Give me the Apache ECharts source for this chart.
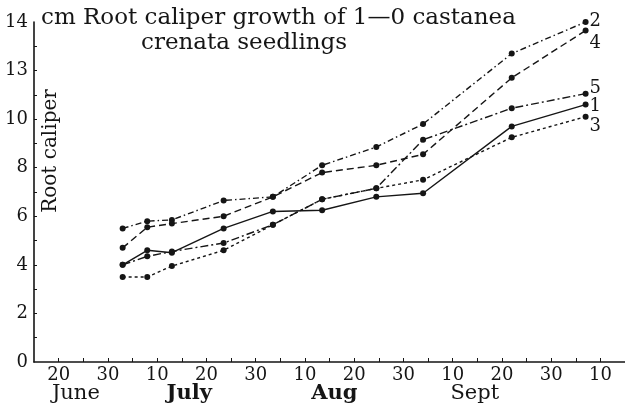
<!DOCTYPE html>
<html>
<head>
<meta charset="utf-8">
<script src="https://cdn.jsdelivr.net/npm/echarts@6/dist/echarts.min.js"></script>
<style>
  html, body { margin: 0; padding: 0; background: #fff; }
  #chart { width: 625px; height: 412px; }
</style>
</head>
<body>
<div id="chart"></div>
<script>
// dates on a "ten-day" scale: 20 = June 20, 30 = June 30, 40 = July 10 ...
const days = [33, 38, 43, 53.5, 63.5, 73.5, 84.5, 94, 112, 127]

// root caliper (cm) per seedling group
const group1 = [4.0, 4.6, 4.5, 5.5, 6.2, 6.25, 6.8, 6.95, 9.7, 10.6]
const group2 = [5.5, 5.8, 5.85, 6.65, 6.8, 8.1, 8.85, 9.8, 12.7, 14.0]
const group3 = [3.5, 3.5, 3.95, 4.6, 5.65, 6.7, 7.15, 7.5, 9.25, 10.1]
const group4 = [4.7, 5.55, 5.7, 6.0, 6.8, 7.8, 8.1, 8.55, 11.7, 13.65]
const group5 = [4.0, 4.35, 4.55, 4.9, 5.65, 6.7, 7.15, 9.15, 10.45, 11.05]

const xTickValues = [20, 30, 40, 50, 60, 70, 80, 90, 100, 110, 120, 130]
const xTickLabels = ['20', '30', '10', '20', '30', '10', '20', '30', '10', '20', '30', '10']
const monthValues = [23.5, 46.5, 76, 104.5]
const monthLabels = ['June', 'July', 'Aug', 'Sept']
const yTickValues = [0, 2, 4, 6, 8, 10, 12, 14]
const yTickLabels = ['0', '2', '4', '6', '8', '10', '13', '14']

const ink = '#151515'
const serif = 'DejaVu Serif'

const pairs = (ys) => days.map((d, i) => [d, ys[i]])

const makeSeries = (name, ys, dash, labelOffset) => ({
  name: name,
  type: 'line',
  data: pairs(ys),
  symbol: 'circle',
  symbolSize: 6,
  clip: false,
  itemStyle: { color: ink },
  lineStyle: { color: ink, width: 1.4, type: dash },
  endLabel: {
    show: true,
    formatter: '{a}',
    distance: 4,
    offset: labelOffset,
    color: ink,
    fontFamily: serif,
    fontSize: 18
  },
  animation: false
})

const option = {
  backgroundColor: '#fff',
  title: [
    {
      text: 'cm Root caliper growth of 1—0 castanea',
      left: 41,
      top: 7,
      padding: 0,
      textStyle: { fontFamily: serif, fontSize: 23, fontWeight: 'normal', color: ink }
    },
    {
      text: 'crenata seedlings',
      left: 141,
      top: 32,
      padding: 0,
      textStyle: { fontFamily: serif, fontSize: 23, fontWeight: 'normal', color: ink }
    }
  ],
  grid: { left: 34, right: 0, top: 22, bottom: 50 },
  xAxis: [
    {
      type: 'value',
      min: 15,
      max: 135,
      splitLine: { show: false },
      axisLine: { lineStyle: { color: ink, width: 1.6 } },
      axisTick: {
        inside: true,
        length: 4,
        lineStyle: { color: ink },
        customValues: [20, 25, 30, 35, 40, 45, 50, 55, 60, 65, 70, 75, 80, 85, 90, 95, 100, 105, 110, 115, 120, 125, 130]
      },
      axisLabel: {
        customValues: xTickValues,
        margin: 4,
        color: ink,
        fontFamily: serif,
        fontSize: 18,
        formatter: (v) => xTickLabels[xTickValues.indexOf(v)]
      }
    },
    {
      type: 'value',
      min: 15,
      max: 135,
      position: 'bottom',
      splitLine: { show: false },
      axisLine: { show: false },
      axisTick: { show: false },
      axisLabel: {
        customValues: monthValues,
        margin: 21,
        color: ink,
        fontFamily: serif,
        fontSize: 21,
        formatter: (v) => {
          const name = monthLabels[monthValues.indexOf(v)]
          return name === 'July' || name === 'Aug' ? '{b|' + name + '}' : name
        },
        rich: {
          b: { fontFamily: serif, fontSize: 21, fontWeight: 'bold', color: ink }
        }
      }
    }
  ],
  yAxis: {
    type: 'value',
    min: 0,
    max: 14,
    splitLine: { show: false },
    axisLine: { show: true, lineStyle: { color: ink, width: 1.6 } },
    axisTick: {
      show: true,
      inside: true,
      length: 3,
      lineStyle: { color: ink },
      customValues: [1, 2, 3, 4, 5, 6, 7, 8, 9, 10, 11, 12, 13]
    },
    axisLabel: {
      customValues: yTickValues,
      margin: 6,
      color: ink,
      fontFamily: serif,
      fontSize: 18,
      formatter: (v) => yTickLabels[yTickValues.indexOf(v)]
    }
  },
  graphic: [
    {
      type: 'text',
      x: 51,
      y: 151,
      rotation: Math.PI / 2,
      style: {
        text: 'Root caliper',
        align: 'center',
        verticalAlign: 'middle',
        fill: ink,
        font: '20px "DejaVu Serif"'
      }
    }
  ],
  series: [
    makeSeries('1', group1, 'solid', [0, 2]),
    makeSeries('2', group2, [6, 3, 1.5, 3], [0, -1]),
    makeSeries('3', group3, [3, 3], [0, 10]),
    makeSeries('4', group4, [7, 4], [0, 13]),
    makeSeries('5', group5, [8, 3, 2, 3], [0, -5])
  ]
}

const chart = echarts.init(document.getElementById('chart'))
option && chart.setOption(option)
</script>
</body>
</html>
